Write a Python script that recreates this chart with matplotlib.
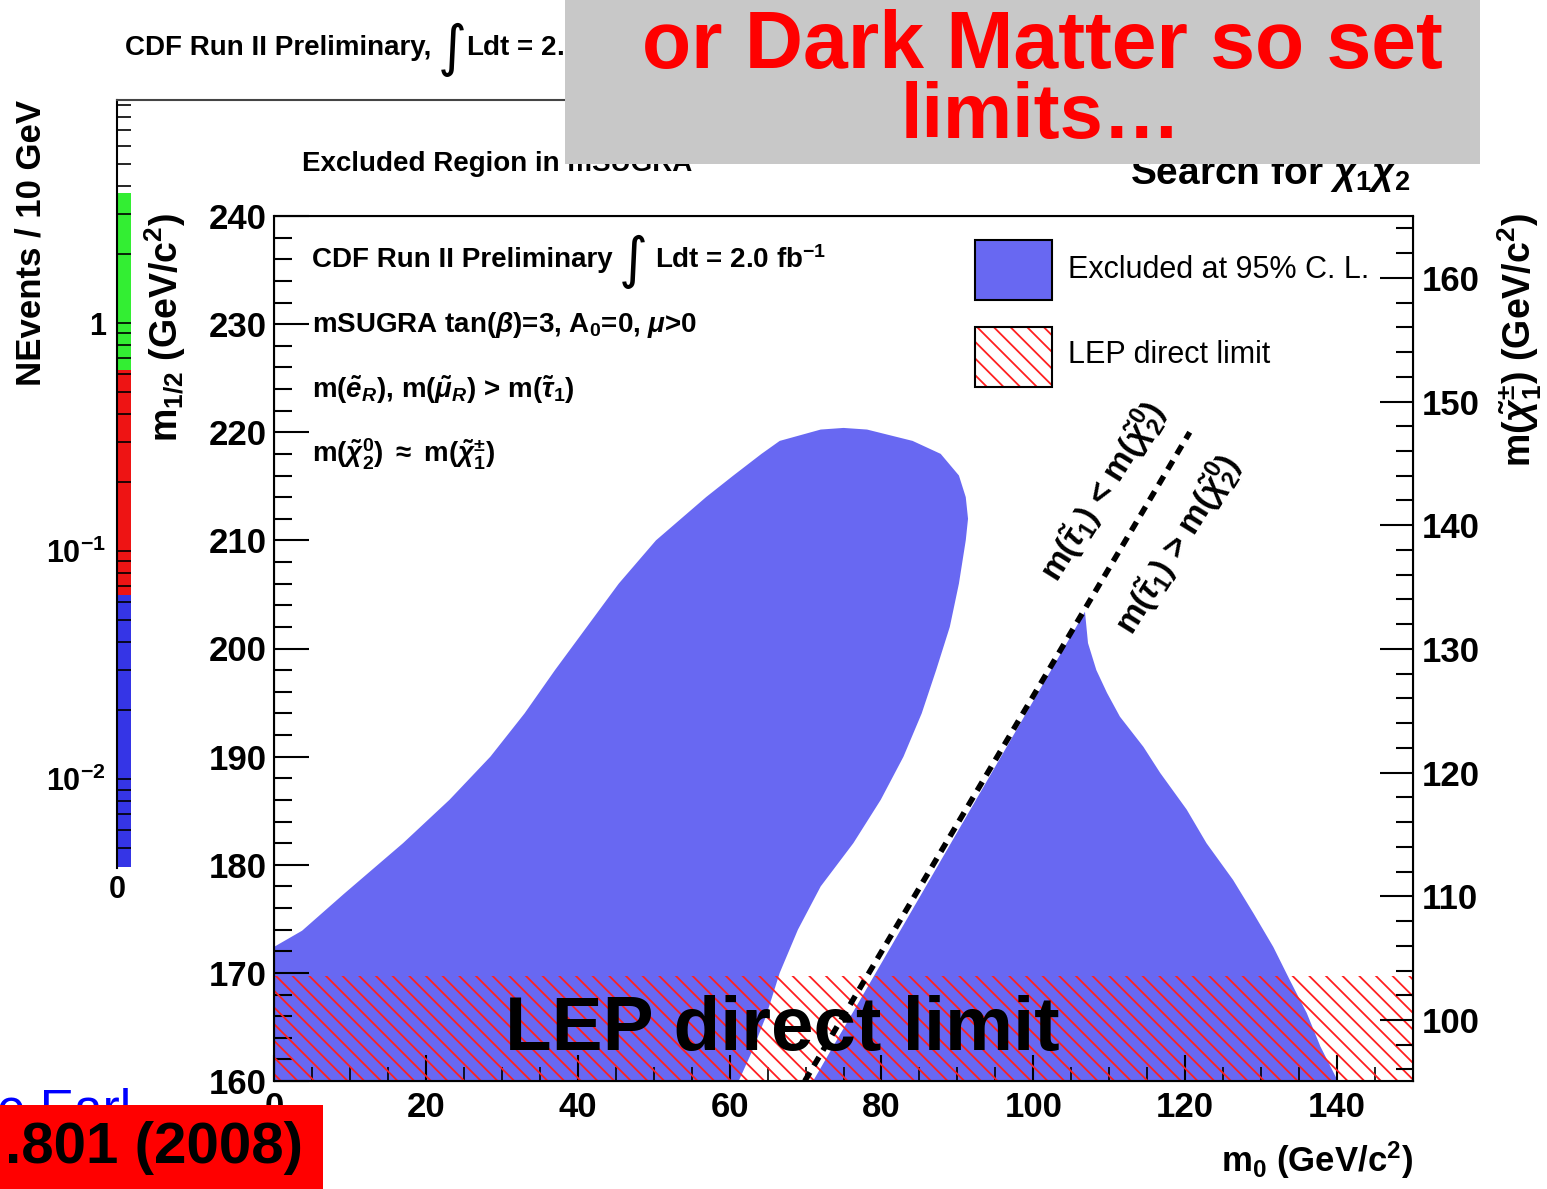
import matplotlib
matplotlib.use("Agg")
import matplotlib.pyplot as plt
from matplotlib.patches import Rectangle
from matplotlib.lines import Line2D
from matplotlib.ticker import MultipleLocator, LogLocator, NullFormatter

W, H = 1547, 1189
plt.rcParams.update({
    "font.family": ["Liberation Sans", "DejaVu Sans"],
    "font.weight": "bold",
    "mathtext.fontset": "custom",
    "mathtext.rm": "Liberation Sans:bold",
    "mathtext.it": "Liberation Sans:italic:bold",
    "mathtext.bf": "Liberation Sans:bold",
    "hatch.linewidth": 1.3,
    "hatch.color": "#ff2020",
})
BLUE = "#6868f2"
HATCH = "#ff2020"

# ---- excluded region in the (m0, m1/2) plane, GeV/c^2 ----
blob_m0 = [0, 0, 3.7, 9.2, 17.0, 23.1, 28.5, 33.0, 37.0, 41.2, 45.4, 50.3, 56.9, 60.5,
           64.2, 66.6, 72.0, 75.0, 78.1, 84.1, 87.8, 90.2, 91.1, 91.4, 91.1, 90.2, 89.0,
           87.2, 85.3, 82.9, 79.9, 76.3, 72.0, 69.0, 66.6, 64.8, 63.0, 61.2]
blob_m12 = [160, 172.4, 173.9, 177.3, 182.0, 186.0, 190.0, 194.0, 198.0, 202.0, 206.0,
            210.0, 214.0, 216.0, 218.0, 219.2, 220.25, 220.4, 220.25, 219.2, 218.0, 216.0,
            214.0, 212.0, 210.0, 206.0, 202.0, 198.0, 194.0, 190.0, 186.0, 182.0, 178.0,
            174.0, 170.0, 166.0, 162.8, 160.0]
tri_m0 = [71.0, 106.8, 107.2, 108.3, 109.7, 111.4, 114.5, 116.7, 120.2, 122.8, 126.3,
          129.0, 131.6, 133.8, 136.0, 137.8, 140.1]
tri_m12 = [160, 203.4, 200.5, 198.0, 195.9, 193.7, 190.9, 188.5, 185.1, 182.0, 178.6,
           175.5, 172.4, 169.3, 166.3, 163.2, 160]
# m(stau1) = m(chi2^0) boundary
stau_m0 = [69.9, 120.6]
stau_m12 = [160.0, 220.0]
lep_m12 = 169.7            # LEP chargino limit (~103.5 GeV/c^2)
m0_range = (0, 150)
m12_range = (160, 240)
chi_range = (95.07, 165.0)

# ---- colour scale of the plot underneath (NEvents / 10 GeV) ----
cb_edges = [0.0041, 0.064, 0.62, 3.7]
cb_colors = ["#3535e6", "#ee1414", "#33ee33"]
cb_range = (10 ** -2.39, 10 ** 0.978)
cb_ticks = [0.01, 0.1, 1]
cb_ticklabels = [r"$10^{-2}$", r"$10^{-1}$", "1"]


def fx(px):
    return px / W


def fy(py):
    return 1 - py / H


fig = plt.figure(figsize=(W / 100, H / 100), dpi=100)
fig.patch.set_facecolor("white")

# ---------- background plot remnants ----------
cax = fig.add_axes([fx(117), fy(868), 14 / W, 768 / H])
cax.set_yscale("log")
for lo, hi, c in zip(cb_edges[:-1], cb_edges[1:], cb_colors):
    cax.bar(0.5, hi - lo, bottom=lo, width=1, color=c, lw=0)
cax.set_ylim(*cb_range); cax.set_xlim(0, 1)
cax.set_xticks([])
for s in ("top", "right", "bottom"):
    cax.spines[s].set_visible(False)
cax.spines["left"].set_linewidth(1.5)
cax.set_yticks(cb_ticks, labels=cb_ticklabels)
cax.yaxis.set_minor_locator(LogLocator(base=10, subs=range(2, 10), numticks=20))
cax.yaxis.set_minor_formatter(NullFormatter())
cax.tick_params(axis="y", which="both", direction="in", length=10, width=1.2,
                labelsize=22, pad=8)
fig.text(fx(117), fy(890), "0", ha="center", va="center", fontsize=22)
fig.text(fx(31), fy(100), "NEvents / 10 GeV", rotation=90, ha="center", va="top", fontsize=25)
fig.add_artist(Line2D([fx(117), fx(566)], [fy(100), fy(100)], transform=fig.transFigure,
                      color="#444444", lw=1.5, zorder=4))
fig.text(fx(125), fy(48), "CDF Run II Preliminary,", va="center", fontsize=20)
fig.text(fx(452), fy(50), "\u222b", ha="center", va="center", fontsize=40,
         fontweight="normal", family="DejaVu Sans")
fig.text(fx(466), fy(48), "Ldt = 2.0 fb$^{-1}$", va="center", fontsize=20)
fig.text(fx(302), fy(171), "Excluded Region in mSUGRA", va="baseline", fontsize=20)
fig.text(fx(1410), fy(184), r"Search for $\chi_1\chi_2$", ha="right", va="baseline", fontsize=28)

# ---------- main plot ----------
ax = fig.add_axes([fx(274), fy(1081), 1139 / W, 865 / H])
ax.fill(blob_m0, blob_m12, color=BLUE, lw=0, zorder=1)
ax.fill(tri_m0, tri_m12, color=BLUE, lw=0, zorder=1)
ax.axhspan(m12_range[0], lep_m12, facecolor="none", edgecolor=HATCH, hatch="\\\\", lw=0, zorder=2)
ax.plot(stau_m0, stau_m12, color="black", lw=4, ls=(0, (1.8, 1.4)), zorder=3)
ax.set_xlim(*m0_range); ax.set_ylim(*m12_range)

ax.xaxis.set_major_locator(MultipleLocator(20)); ax.xaxis.set_minor_locator(MultipleLocator(5))
ax.yaxis.set_major_locator(MultipleLocator(10)); ax.yaxis.set_minor_locator(MultipleLocator(2))
ax.tick_params(axis="y", which="major", direction="in", length=25, width=1.5, labelsize=25, pad=5)
ax.tick_params(axis="y", which="minor", direction="in", length=13, width=1.5)
ax.tick_params(axis="x", which="major", direction="in", length=19, width=1.5, labelsize=25, pad=7)
ax.tick_params(axis="x", which="minor", direction="in", length=10, width=1.2)
for s in ax.spines.values():
    s.set_linewidth(1.5)

ax2 = ax.twinx()
ax2.set_ylim(*chi_range)
ax2.yaxis.set_major_locator(MultipleLocator(10)); ax2.yaxis.set_minor_locator(MultipleLocator(2))
ax2.tick_params(axis="y", which="major", direction="in", length=24, width=1.5, labelsize=25, pad=6)
ax2.tick_params(axis="y", which="minor", direction="in", length=12, width=1.5)

# legend
ax.add_patch(Rectangle((0.6155, 0.9029), 0.0676, 0.0694, transform=ax.transAxes,
                       facecolor=BLUE, edgecolor="black", lw=1.5, zorder=4))
ax.add_patch(Rectangle((0.6155, 0.8023), 0.0676, 0.0694, transform=ax.transAxes,
                       facecolor="white", edgecolor=HATCH, hatch="\\\\", lw=0, zorder=4))
ax.add_patch(Rectangle((0.6155, 0.8023), 0.0676, 0.0694, transform=ax.transAxes,
                       facecolor="none", edgecolor="black", lw=1.5, zorder=5))
ax.text(0.697, 0.9376, "Excluded at 95% C. L.", transform=ax.transAxes, va="center",
        fontsize=22, fontweight="normal")
ax.text(0.697, 0.8393, "LEP direct limit", transform=ax.transAxes, va="center",
        fontsize=22, fontweight="normal")

# text block
tx = 0.0334
ax.text(tx, 0.949, "CDF Run II Preliminary", transform=ax.transAxes, va="center", fontsize=20)
ax.text(0.315, 0.947, "\u222b", transform=ax.transAxes, ha="center", va="center", fontsize=40,
        fontweight="normal", family="DejaVu Sans")
ax.text(0.3345, 0.949, "Ldt = 2.0 fb$^{-1}$", transform=ax.transAxes, va="center", fontsize=20)
ax.text(tx, 0.874, r"mSUGRA tan($\beta$)=3, A$_0$=0, $\mu$>0", transform=ax.transAxes,
        va="center", fontsize=20)
ax.text(tx, 0.799, r"m($\tilde{e}_R$), m($\tilde{\mu}_R$) > m($\tilde{\tau}_1$)",
        transform=ax.transAxes, va="center", fontsize=20)
ax.text(tx, 0.724, r"m($\tilde{\chi}^0_2$) $\approx$ m($\tilde{\chi}^{\pm}_1$)",
        transform=ax.transAxes, va="center", fontsize=20)

ax.text(0.728, 0.681, r"m($\tilde{\tau}_1$) < m($\tilde{\chi}^0_2$)", transform=ax.transAxes,
        ha="center", va="center", rotation=58, rotation_mode="anchor", fontsize=24)
ax.text(0.794, 0.619, r"m($\tilde{\tau}_1$) > m($\tilde{\chi}^0_2$)", transform=ax.transAxes,
        ha="center", va="center", rotation=58, rotation_mode="anchor", fontsize=24)

ax.text(0.446, 0.0358, "LEP direct limit", transform=ax.transAxes, ha="center", va="baseline",
        fontsize=55, zorder=6)

# axis titles
fig.text(fx(1413), fy(1160), "m$_0$ (GeV/c$^2$)", ha="right", va="center", fontsize=25)
fig.text(fx(165), fy(213), "m$_{1/2}$ (GeV/c$^2$)", rotation=90, ha="center", va="top", fontsize=27)
fig.text(fx(1520), fy(213), r"m($\tilde{\chi}^{\pm}_1$) (GeV/c$^2$)", rotation=90,
         ha="center", va="top", fontsize=27)

# ---------- slide overlays ----------
fig.add_artist(Rectangle((fx(565), fy(164)), (1480 - 565) / W, 164 / H, transform=fig.transFigure,
                         facecolor="#c8c8c8", edgecolor="none", zorder=5))
fig.text(fx(1042), fy(68), "or Dark Matter so set", ha="center", va="baseline",
         fontsize=58, color="#ff0000", zorder=6)
fig.text(fx(1041), fy(138), "limits\u2026", ha="center", va="baseline",
         fontsize=56, color="#ff0000", zorder=6)

fig.text(fx(-3), fy(1125), "e Earl", va="baseline", fontsize=37, fontweight="normal",
         color="#0000ff", zorder=4)
fig.add_artist(Rectangle((0, 0), 323 / W, (H - 1105) / H, transform=fig.transFigure,
                         facecolor="#ff0000", edgecolor="none", zorder=5))
fig.text(fx(303), fy(1148), ".801 (2008)", ha="right", va="center", fontsize=42, zorder=6)

fig.savefig("out.png", dpi=100, facecolor="white")
